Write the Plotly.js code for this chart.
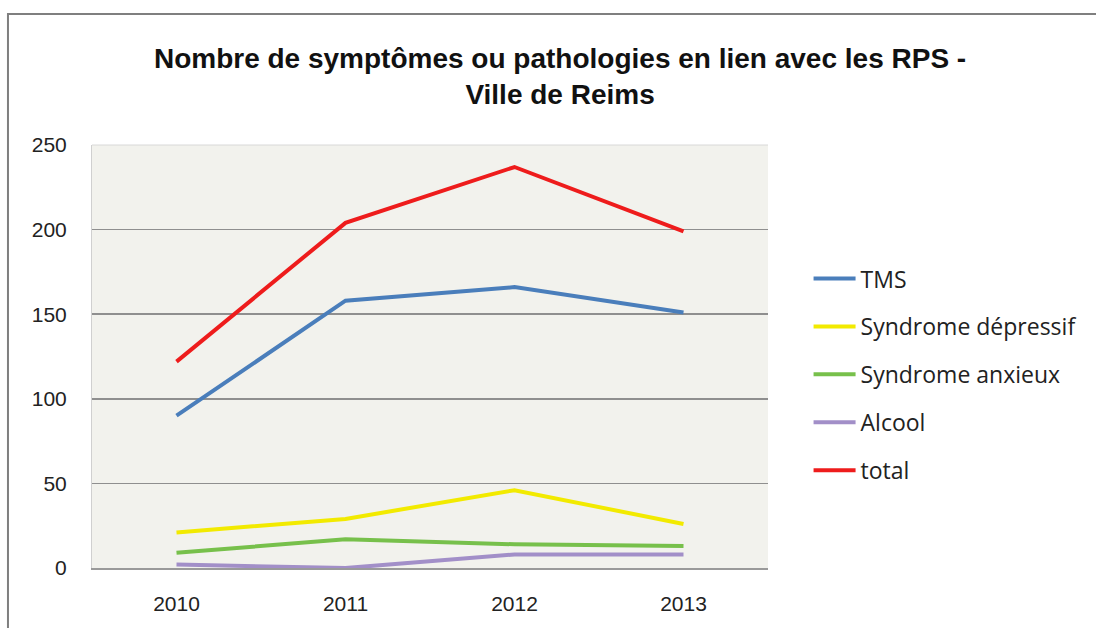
<!DOCTYPE html>
<html><head><meta charset="utf-8">
<script src="https://cdn.plot.ly/plotly-3.0.1.min.js"></script>
<style>html,body{margin:0;padding:0;background:#fff;}#chart{width:1096px;height:628px;}</style>
</head><body><div id="chart"></div>
<script>
const years = ['2010','2011','2012','2013'];
const tms = [90, 158, 166, 151];
const depressif = [21, 29, 46, 26];
const anxieux = [9, 17, 14, 13];
const alcool = [2, 0, 8, 8];
const total = [122, 204, 237, 199];
const seriesNames = ['TMS','Syndrome dépressif','Syndrome anxieux','Alcool','total'];
const seriesColors = ['#4a7ebb','#f2ea00','#77c04b','#a28fc8','#ee1c1c'];
const seriesData = [tms, depressif, anxieux, alcool, total];

const traces = seriesData.map((d,i)=>({
  x: years, y: d, type:'scatter', mode:'lines', name: seriesNames[i],
  legendgroup: 'g'+i,
  line:{color: seriesColors[i], width:4}
}));

const layout = {
  width:1096, height:628,
  margin:{l:92, r:328, t:145, b:60},
  paper_bgcolor:'#ffffff', plot_bgcolor:'#f2f2ed',
  font:{family:'"Liberation Sans",sans-serif', color:'#222'},
  title:{text:'<b>Nombre de symptômes ou pathologies en lien avec les RPS -<br>Ville de Reims</b>',
    x:0.511, xanchor:'center', y:0.892, yanchor:'middle',
    font:{size:28, family:'"Liberation Sans",sans-serif', color:'#111'}},
  xaxis:{type:'category', range:[-0.5,3.5], showgrid:false, zeroline:false,
    showline:true, linecolor:'#9a9a9a', linewidth:1.5, ticks:'',
    tickfont:{size:21, color:'#222'}, ticklabelstandoff:16},
  yaxis:{range:[0,250], dtick:50, showgrid:true, gridcolor:'#8f8f8f', gridwidth:1.5,
    zeroline:false, showline:true, linecolor:'#d0d0d0', linewidth:1, ticks:'',
    tickfont:{size:21, color:'#222'}, ticklabelstandoff:20},
  showlegend:true,
  legend:{x:1.06, xanchor:'left', y:0.735, yanchor:'top', traceorder:'grouped', tracegroupgap:15,
    font:{size:23, family:'"Open Sans","Noto Sans",sans-serif', color:'#222'}, bgcolor:'rgba(0,0,0,0)', itemwidth:42},
  shapes:[
    {type:'rect', xref:'paper', yref:'paper', x0:-0.1243, x1:1.8, y0:-0.5, y1:1.3097,
     line:{color:'#7f7f7f', width:2}, fillcolor:'rgba(0,0,0,0)', layer:'below'},
    {type:'line', xref:'paper', yref:'paper', x0:0, x1:1, y0:1, y1:1, line:{color:'#d8d8d8', width:1}}
  ]
};
Plotly.newPlot('chart', traces, layout, {displayModeBar:false, staticPlot:true});
</script></body></html>
